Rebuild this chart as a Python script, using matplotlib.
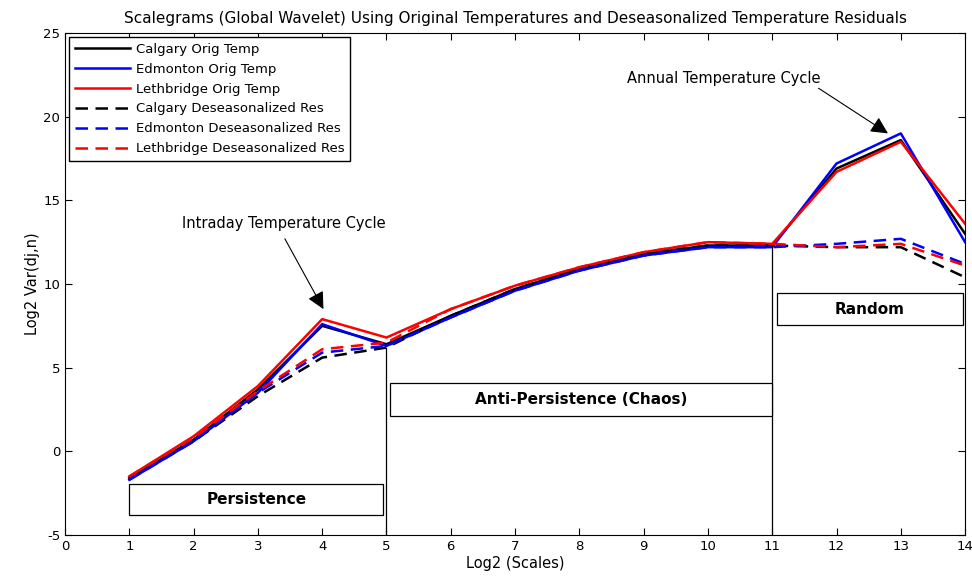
import numpy as np
import matplotlib.pyplot as plt

# scale index (log2 of scale)
scales = [1, 2, 3, 4, 5, 6, 7, 8, 9, 10, 11, 12, 13, 14]

# log2 wavelet variance, original temperatures
calgary_orig = [-1.6, 0.7, 3.7, 7.5, 6.4, 8.1, 9.7, 10.9, 11.8, 12.3, 12.3, 16.9, 18.6, 13.0]
edmonton_orig = [-1.7, 0.6, 3.5, 7.6, 6.3, 8.0, 9.6, 10.8, 11.7, 12.2, 12.2, 17.2, 19.0, 12.5]
lethbridge_orig = [-1.5, 0.9, 3.9, 7.9, 6.8, 8.5, 9.9, 11.0, 11.9, 12.5, 12.4, 16.7, 18.5, 13.6]

# log2 wavelet variance, deseasonalized residuals
calgary_res = [-1.6, 0.6, 3.3, 5.6, 6.2, 8.1, 9.7, 10.9, 11.8, 12.3, 12.3, 12.2, 12.2, 10.4]
edmonton_res = [-1.7, 0.6, 3.5, 5.9, 6.3, 8.0, 9.6, 10.8, 11.7, 12.2, 12.2, 12.4, 12.7, 11.2]
lethbridge_res = [-1.5, 0.8, 3.6, 6.1, 6.5, 8.5, 9.9, 11.0, 11.9, 12.5, 12.4, 12.2, 12.4, 11.1]

plt.rcParams['font.family'] = ['DejaVu Sans']
plt.rcParams['axes.unicode_minus'] = False

fig = plt.figure(figsize=(9.72, 5.8), dpi=100)
ax = fig.add_axes([0.0669, 0.0776, 0.926, 0.8655])

lw = 1.8
ax.plot(scales, calgary_orig, color='black', lw=lw, label='Calgary Orig Temp')
ax.plot(scales, edmonton_orig, color='blue', lw=lw, label='Edmonton Orig Temp')
ax.plot(scales, lethbridge_orig, color='red', lw=lw, label='Lethbridge Orig Temp')
ax.plot(scales, calgary_res, color='black', lw=lw, ls=(0, (5, 3)), label='Calgary Deseasonalized Res')
ax.plot(scales, edmonton_res, color='blue', lw=lw, ls=(0, (5, 3)), label='Edmonton Deseasonalized Res')
ax.plot(scales, lethbridge_res, color='red', lw=lw, ls=(0, (5, 3)), label='Lethbridge Deseasonalized Res')

# regime separators
ax.plot([5, 5], [-5, calgary_res[4]], color='black', lw=0.9)
ax.plot([11, 11], [-5, calgary_res[10]], color='black', lw=0.9)

# regime labels in boxes
boxes = [
    (1.0, -3.8, 3.95, 1.85, 'Persistence'),
    (5.05, 2.1, 5.95, 2.0, 'Anti-Persistence (Chaos)'),
    (11.07, 7.55, 2.9, 1.9, 'Random'),
]
for x0, y0, w, h, txt in boxes:
    ax.add_patch(plt.Rectangle((x0, y0), w, h, facecolor='white', edgecolor='black', lw=0.9, zorder=3))
    ax.text(x0 + w / 2, y0 + h / 2, txt, ha='center', va='center', fontsize=11,
            fontweight='bold', zorder=4)

# cycle annotations: text, then arrow from just below the text to the peak
arrow = dict(arrowstyle='-|>', color='black', lw=0.8, mutation_scale=26, shrinkA=0, shrinkB=0)
ax.text(3.4, 13.6, 'Intraday Temperature Cycle', ha='center', va='center', fontsize=10.5)
ax.annotate('', xy=(4.02, 8.5), xytext=(3.42, 12.7), arrowprops=arrow)
ax.text(10.25, 22.3, 'Annual Temperature Cycle', ha='center', va='center', fontsize=10.5)
ax.annotate('', xy=(12.8, 19.0), xytext=(11.72, 21.7), arrowprops=arrow)

ax.set_xlim(0, 14)
ax.set_ylim(-5, 25)
ax.set_xticks(range(0, 15))
ax.set_yticks(range(-5, 26, 5))
ax.tick_params(direction='in', top=True, right=True, labelsize=9.5, length=5)
ax.set_xlabel('Log2 (Scales)', fontsize=10.5, labelpad=2)
ax.set_ylabel('Log2 Var(dj,n)', fontsize=10.5, labelpad=2)
ax.set_title('Scalegrams (Global Wavelet) Using Original Temperatures and Deseasonalized Temperature Residuals',
             fontsize=11, pad=7)

leg = ax.legend(loc='upper left', fontsize=9.5, fancybox=False, framealpha=1, edgecolor='black',
                borderaxespad=0.3, handlelength=4.2, labelspacing=0.52, borderpad=0.45, handletextpad=0.4)
leg.get_frame().set_linewidth(1.0)

fig.savefig('out.png', dpi=100)
